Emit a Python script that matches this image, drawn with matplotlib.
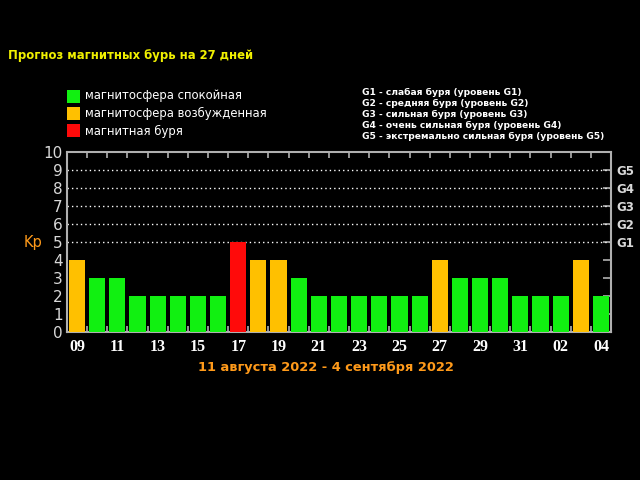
import matplotlib
matplotlib.use("Agg")
import matplotlib.pyplot as plt
from matplotlib.patches import Rectangle

days = ["09","10","11","12","13","14","15","16","17","18","19","20","21","22",
        "23","24","25","26","27","28","29","30","31","01","02","03","04"]
kp = [4,3,3,2,2,2,2,2,5,4,4,3,2,2,2,2,2,2,4,3,3,3,2,2,2,4,2]
levels = ["G1","G2","G3","G4","G5"]
legend_labels = ["магнитосфера спокойная", "магнитосфера возбужденная", "магнитная буря"]
g_legend = ["G1 - слабая буря (уровень G1)",
            "G2 - средняя буря (уровень G2)",
            "G3 - сильная буря (уровень G3)",
            "G4 - очень сильная буря (уровень G4)",
            "G5 - экстремально сильная буря (уровень G5)"]
title = "Прогноз магнитных бурь на 27 дней"
period = "11 августа 2022 - 4 сентября 2022"

GREEN = "#11f011"
ORANGE = "#ffc000"
RED = "#ff0a0a"
ORANGE_TXT = "#ff9a1a"
FG = "#d8d8d8"

def color_for(v):
    if v >= 5:
        return RED
    if v == 4:
        return ORANGE
    return GREEN

fig = plt.figure(figsize=(6.4, 4.8), dpi=100, facecolor="black")
ax = fig.add_axes([67/640, 1-332/480, 544/640, 180/480], facecolor="black")

x = list(range(len(kp)))
ax.bar(x, kp, width=0.8, color=[color_for(v) for v in kp], zorder=3)
ax.set_xlim(-0.5, len(kp)-0.5)
ax.set_ylim(0, 10)

for s in ax.spines.values():
    s.set_color("#b0b0b0")
    s.set_linewidth(1.5)

# dotted grid for 5..9
for yv in range(5, 10):
    ax.axhline(yv, color="white", linestyle=(0, (1, 2.2)), linewidth=1.0, zorder=1)

ax.set_yticks(range(0, 11))
ax.set_yticklabels([str(i) for i in range(0, 11)], color=FG, fontsize=11)
ax.tick_params(axis="y", length=0, pad=3)

ax.set_xticks(x[::2])
ax.set_xticklabels(days[::2], color="white", fontsize=11.5, fontweight="bold",
                   family="Liberation Serif")
ax.tick_params(axis="x", length=0, pad=5)

# boundary ticks top & bottom
sec = ax.secondary_xaxis("top")
sec.set_xticks([i + 0.5 for i in range(len(kp)-1)])
sec.set_xticklabels([])
sec.tick_params(direction="in", length=4, color="#b0b0b0", width=1.2)
sec.spines["top"].set_visible(False)
ax.set_xticks([i + 0.5 for i in range(len(kp)-1)], minor=True)
ax.tick_params(axis="x", which="minor", direction="in", length=4, color="#b0b0b0", width=1.2)

# right axis
rax = ax.secondary_yaxis("right")
rax.set_yticks(range(1, 10))
rax.set_yticklabels(["", "", "", ""] + levels, color=FG, fontsize=8.5, fontweight="bold")
rax.tick_params(direction="in", length=6, color="#b0b0b0", width=1.2, pad=4)
rax.spines["right"].set_visible(False)

fig.text(33/640, 1-242/480, "Kp", color=ORANGE_TXT, fontsize=10.5, ha="center", va="center")
fig.text(8/640, 1-55/480, title, color="#f0f000", fontsize=8.4, fontweight="bold", va="center")

cols = [GREEN, ORANGE, RED]
for i, (lab, c) in enumerate(zip(legend_labels, cols)):
    yc = 96 + i*17.5
    fig.patches.append(Rectangle((67/640, 1-(yc+6.5)/480), 13/640, 13/480,
                                 transform=fig.transFigure, facecolor=c, edgecolor="none"))
    fig.text(85/640, 1-yc/480, lab, color="white", fontsize=8.4, va="center")

for i, lab in enumerate(g_legend):
    yc = 92 + i*11
    fig.text(362/640, 1-yc/480, lab, color="white", fontsize=6.6, fontweight="bold", va="center")

fig.text(326/640, 1-367/480, period, color=ORANGE_TXT, fontsize=9.4, fontweight="bold",
         ha="center", va="center")

fig.savefig("out.png", dpi=100, facecolor="black")
